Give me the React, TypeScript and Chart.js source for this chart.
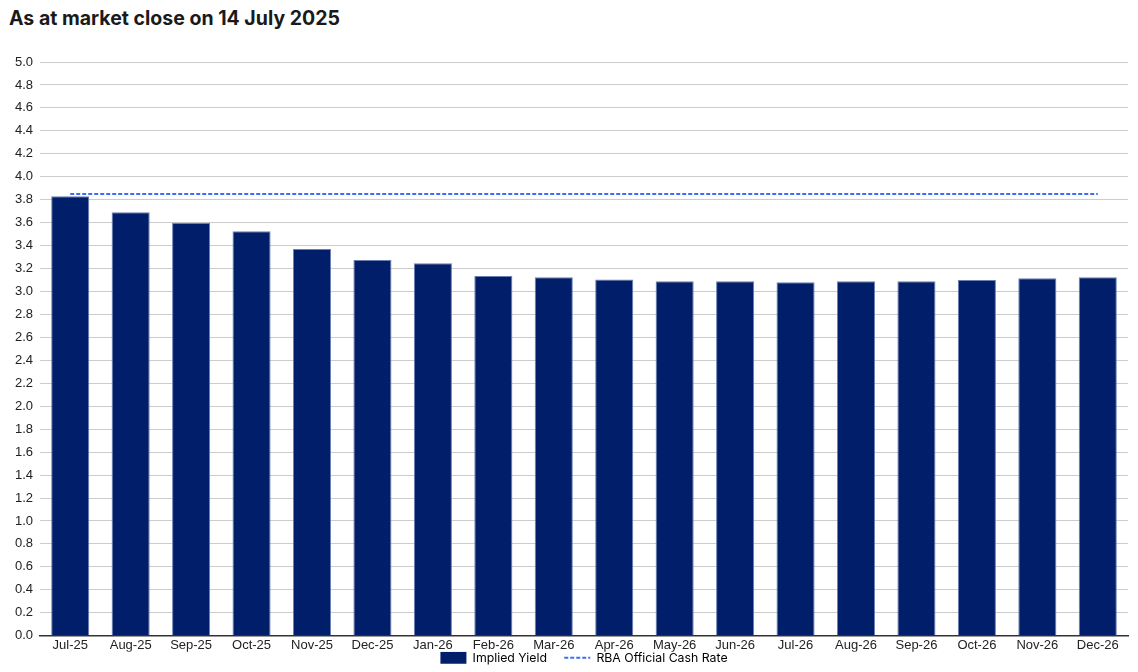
import React, { useEffect, useRef } from "react";
import { Chart, registerables } from "chart.js";

Chart.register(...registerables);

const months = [
  "Jul-25", "Aug-25", "Sep-25", "Oct-25", "Nov-25", "Dec-25",
  "Jan-26", "Feb-26", "Mar-26", "Apr-26", "May-26", "Jun-26",
  "Jul-26", "Aug-26", "Sep-26", "Oct-26", "Nov-26", "Dec-26",
];

const impliedYield = [
  3.83, 3.69, 3.60, 3.525, 3.37, 3.275,
  3.245, 3.135, 3.125, 3.105, 3.09, 3.09,
  3.08, 3.09, 3.09, 3.10, 3.115, 3.125,
];

const cashRate = [
  3.85, 3.85, 3.85, 3.85, 3.85, 3.85,
  3.85, 3.85, 3.85, 3.85, 3.85, 3.85,
  3.85, 3.85, 3.85, 3.85, 3.85, 3.85,
];

const titleText = "As at market close on 14 July 2025";
const seriesNames = ["Implied Yield", "RBA Official Cash Rate"];

export default function App() {
  const canvasRef = useRef<HTMLCanvasElement | null>(null);

  useEffect(() => {
    if (!canvasRef.current) return;
    const chart = new Chart(canvasRef.current, {
      type: "bar",
      data: {
        labels: months,
        datasets: [
          {
            type: "bar",
            label: seriesNames[0],
            data: impliedYield,
            backgroundColor: "#001e6a",
            borderColor: "#6b7fb3",
            borderWidth: 1,
            barPercentage: 0.63,
            categoryPercentage: 1,
            order: 2,
          },
          {
            type: "line",
            label: seriesNames[1],
            data: cashRate,
            borderColor: "#3d6ff2",
            borderWidth: 2,
            borderDash: [4, 2],
            pointRadius: 0,
            fill: false,
            order: 1,
          },
        ],
      },
      options: {
        animation: false,
        responsive: true,
        maintainAspectRatio: false,
        layout: { padding: { top: 22, right: 10, left: 0, bottom: 0 } },
        plugins: {
          title: { display: false },
          tooltip: { enabled: false },
          legend: {
            position: "bottom",
            fullSize: false,
            labels: {
              usePointStyle: true,
              pointStyleWidth: 26,
              boxHeight: 12,
              padding: 0,
              color: "#222",
              font: { family: "Inter", size: 12.3 },
              generateLabels: () => [
                {
                  text: seriesNames[0] + "     ",
                  fillStyle: "#001e6a",
                  strokeStyle: "#001e6a",
                  lineWidth: 0,
                  pointStyle: "rect",
                  datasetIndex: 0,
                  hidden: false,
                },
                {
                  text: seriesNames[1],
                  fillStyle: "#3d6ff2",
                  strokeStyle: "#3d6ff2",
                  lineWidth: 2,
                  lineDash: [4, 2],
                  pointStyle: "line",
                  datasetIndex: 1,
                  hidden: false,
                },
              ],
            },
          },
        },
        scales: {
          x: {
            afterFit: (scale: any) => {
              scale.height = 16;
            },
            grid: { display: false, drawTicks: false },
            border: { display: true, color: "#333", width: 1.5 },
            ticks: {
              color: "#222",
              padding: 1.5,
              maxRotation: 0,
              autoSkip: false,
              font: { family: "Liberation Sans", size: 13 },
            },
          },
          y: {
            min: 0,
            max: 5,
            afterFit: (scale: any) => {
              scale.width = 40;
            },
            grid: { color: "#cccccc", lineWidth: 1, drawTicks: false },
            border: { display: false },
            ticks: {
              stepSize: 0.2,
              color: "#222",
              padding: 7,
              font: { family: "Liberation Sans", size: 13 },
              callback: (v: any) => Number(v).toFixed(1),
            },
          },
        },
      },
    });
    return () => chart.destroy();
  }, []);

  return (
    <div
      style={{
        position: "absolute",
        left: 0,
        top: 0,
        width: 1138,
        height: 672,
        background: "#fff",
        overflow: "hidden",
      }}
    >
      <div
        style={{
          position: "absolute",
          left: 9,
          top: 6,
          fontFamily: "Inter, 'Noto Sans', sans-serif",
          fontWeight: 700,
          fontSize: 19.5,
          color: "#1a1a1a",
          whiteSpace: "nowrap",
        }}
      >
        {titleText}
      </div>
      <div style={{ position: "absolute", left: 0, top: 40, width: 1138, height: 634 }}>
        <canvas ref={canvasRef} />
      </div>
    </div>
  );
}
